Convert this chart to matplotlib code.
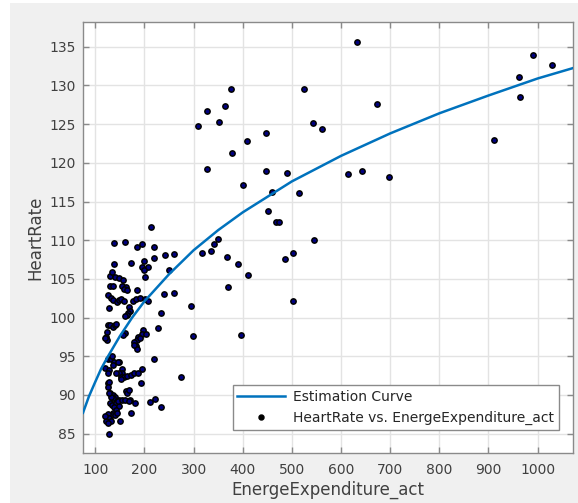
import numpy as np
import matplotlib
matplotlib.use("Agg")
import matplotlib.pyplot as plt
from matplotlib.patches import Rectangle

# scatter data: energy expenditure vs heart rate
energy = [
    310, 328, 352, 364, 376, 327, 379, 408, 448, 401, 447, 459, 490, 452, 467, 473,
    515, 524, 542, 561, 632, 674, 615, 642, 698, 911, 962, 965, 991, 1029, 545, 502,
    502, 486,
    349, 341, 335, 317, 369, 390, 410, 371, 294, 298, 397, 275, 214, 219, 241, 260,
    219, 251, 240, 261, 234, 228, 219, 212, 222, 234,
    139, 161, 184, 196, 139, 173, 200, 195, 208, 200, 202,
    129, 134, 141, 149, 156, 129, 136, 154, 162, 158, 165, 184,
    125, 131, 137, 144, 149, 153, 158, 176, 183, 190, 202, 207,
    128, 168, 171, 166, 164, 161,
    125, 130, 136, 141, 143, 124, 122, 124, 120,
    161, 157, 198, 195, 204, 186, 185, 179, 191, 182, 185, 178,
    125, 131, 134, 139, 148, 137, 120, 127, 125, 146,
    154, 154, 148, 142, 152, 159, 165, 173, 178, 186, 195, 153,
    125, 127, 126, 129, 192,
    162, 165, 168, 137, 141, 136, 131, 127,
    129, 134, 142, 148, 139, 148, 146,
    154, 160, 171, 181, 168,
    142, 137, 134, 141, 144, 173,
    125, 127, 122, 131, 126, 120, 151,
    127,
]
heart = [
    124.7, 126.7, 125.3, 127.4, 129.6, 119.2, 121.3, 122.8, 123.8, 117.1, 119.0, 116.2, 118.7, 113.8, 112.3, 112.3,
    116.1, 129.6, 125.1, 124.4, 135.6, 127.6, 118.5, 119.0, 118.2, 122.9, 131.1, 128.5, 133.9, 132.6, 110.0, 108.3,
    102.2, 107.6,
    110.2, 109.5, 108.6, 108.4, 107.8, 106.9, 105.5, 104.0, 101.5, 97.6, 97.8, 92.3, 111.7, 109.1, 108.1, 108.2,
    107.7, 106.1, 103.0, 103.2, 100.6, 98.7, 94.6, 89.1, 89.5, 88.5,
    109.6, 109.8, 109.1, 109.5, 106.9, 107.1, 107.3, 106.5, 106.6, 106.1, 105.3,
    105.4, 105.9, 105.2, 105.1, 104.9, 104.1, 104.1, 104.1, 104.0, 103.7, 103.6, 103.6,
    102.9, 102.5, 102.3, 102.0, 102.3, 102.4, 102.2, 102.1, 102.4, 102.5, 102.4, 102.2,
    101.2, 101.4, 100.8, 100.6, 100.3, 100.2,
    99.0, 99.1, 98.8, 99.0, 99.2, 98.2, 97.5, 97.1, 97.3,
    98.0, 97.8, 98.4, 97.9, 97.9, 97.5, 97.1, 96.8, 97.3, 96.3, 96.0, 96.5,
    94.7, 94.6, 95.1, 94.2, 94.3, 93.9, 93.5, 93.2, 92.8, 94.2,
    93.4, 92.8, 92.9, 92.9, 92.3, 92.3, 92.5, 92.6, 92.9, 92.9, 93.4, 92.1,
    91.5, 91.7, 91.0, 90.3, 91.6,
    90.5, 90.3, 90.6, 90.0, 89.8, 89.6, 89.7, 90.3,
    89.0, 88.7, 88.9, 89.3, 88.5, 88.6, 89.2,
    89.3, 89.3, 89.4, 89.0, 89.2,
    88.1, 87.7, 87.4, 87.4, 87.7, 87.7,
    87.5, 87.0, 86.7, 86.6, 86.4, 87.3, 86.7,
    85.0,
]

# estimation curve, read at several x positions
curve_x = [75, 87, 100, 112, 125, 150, 175, 200, 250, 300, 350, 400, 500, 600, 700, 800, 900, 1000, 1075]
curve_y = [87.7, 89.8, 91.7, 93.4, 94.9, 97.6, 100.0, 102.1, 105.6, 108.7, 111.3, 113.6, 117.6, 120.9, 123.8, 126.4, 128.7, 130.9, 132.3]

xticks = list(range(100, 1001, 100))
yticks = list(range(85, 136, 5))

W, H = 578, 503
fig = plt.figure(figsize=(W / 100, H / 100), dpi=100, facecolor="white")
fig.patches.append(Rectangle((10 / W, 0), 1, 1 - 3 / H, transform=fig.transFigure,
                             facecolor="#f0f0f0", edgecolor="none", zorder=-10))

ax = fig.add_axes([83 / W, 1 - 453 / H, 490 / W, 431 / H])
ax.set_facecolor("white")

ax.plot(energy, heart, linestyle="none", marker="o", markersize=3.8,
        markerfacecolor="#000080", markeredgecolor="black", markeredgewidth=1.1,
        label="HeartRate vs. EnergeExpenditure_act", zorder=3)
ax.plot(curve_x, curve_y, color="#0072BD", linewidth=1.8, label="Estimation Curve", zorder=4)

ax.set_xlim(75, 1072)
ax.set_ylim(82.5, 138.2)
ax.set_xticks(xticks)
ax.set_yticks(yticks)
ax.grid(True, color="#e3e3e3", linewidth=1)
ax.set_axisbelow(True)

for s in ax.spines.values():
    s.set_color("#8a8a8a")
    s.set_linewidth(1)
ax.tick_params(direction="in", length=4, width=1, color="#8a8a8a",
               top=True, right=True, labelsize=10, labelcolor="#404040")
ax.tick_params(axis="x", pad=7)
ax.tick_params(axis="y", pad=5)

ax.set_xlabel("EnergeExpenditure_act", fontsize=12, color="#404040", labelpad=3)
ax.set_ylabel("HeartRate", fontsize=12, color="#404040", labelpad=4)

h, l = ax.get_legend_handles_labels()
leg = ax.legend([h[1], h[0]], [l[1], l[0]], loc="lower right",
                bbox_to_anchor=(0.971, 0.053), borderaxespad=0, fontsize=10,
                fancybox=False, framealpha=1, edgecolor="#8a8a8a",
                handlelength=3.4, handletextpad=0.6, borderpad=0.35, labelspacing=0.5)
leg.get_frame().set_linewidth(1)
for t in leg.get_texts():
    t.set_color("#262626")
leg.legend_handles[1].set_markerfacecolor("black")
leg.legend_handles[1].set_markersize(3.5)

fig.savefig("out.png", dpi=100, facecolor=fig.get_facecolor())
